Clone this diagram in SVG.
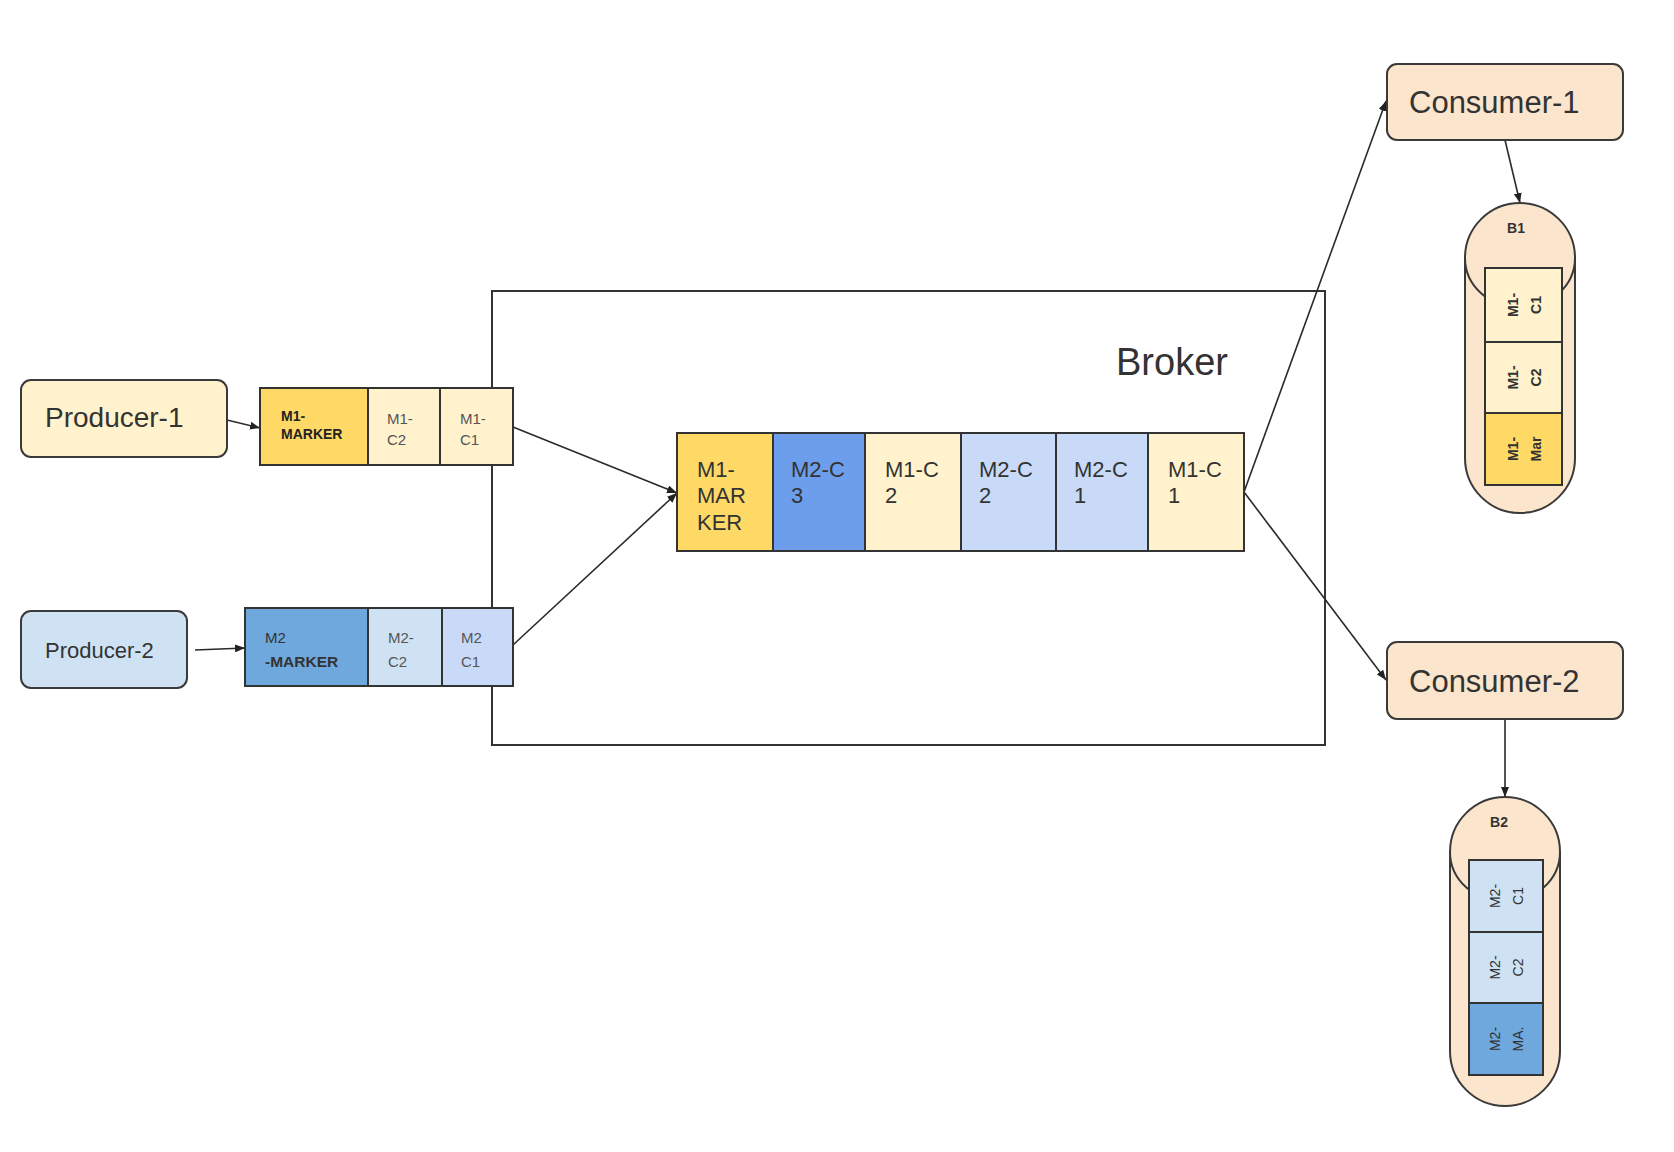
<svg xmlns="http://www.w3.org/2000/svg" width="1674" height="1152" viewBox="0 0 1674 1152">
  <defs>
    <marker id="arr" viewBox="0 0 10 8" refX="10" refY="4" markerWidth="10" markerHeight="8" markerUnits="userSpaceOnUse" orient="auto">
      <path d="M0,0 L10,4 L0,8 Z" fill="#222"/>
    </marker>
    <style>
      text { font-family: "Liberation Sans", Arial, sans-serif; fill: #333; }
      .box { stroke: #3a3a3a; stroke-width: 2; }
      .cell { stroke: #333; stroke-width: 2; }
      .yl { fill: #fff2cc; }
      .yd { fill: #ffd966; }
      .bl { fill: #cfe2f3; }
      .bc { fill: #c9daf8; }
      .bd { fill: #6fa8dc; }
      .bq { fill: #6d9eeb; }
      .or { fill: #fce5cd; }
      .conn line { stroke: #2a2a2a; stroke-width: 1.6; fill: none; marker-end: url(#arr); }
      .big { font-size: 28px; }
      .q { font-size: 22px; }
      .s { font-size: 15px; fill: #555; }
      .sb { font-size: 14px; font-weight: bold; fill: #222; }
      .r { font-size: 14px; }
    </style>
  </defs>
  <rect width="1674" height="1152" fill="#ffffff"/>

  <g id="broker">
    <rect x="492" y="291" width="833" height="454" fill="none" stroke="#333" stroke-width="2"/>
    <text x="1116" y="375" font-size="38">Broker</text>
  </g>

  <g class="conn" id="connectors">
    <line x1="227" y1="420" x2="260" y2="428"/>
    <line x1="195" y1="650" x2="245" y2="648"/>
    <line x1="513" y1="427" x2="677" y2="493"/>
    <line x1="513" y1="645" x2="677" y2="493"/>
    <line x1="1244" y1="492" x2="1386" y2="101"/>
    <line x1="1244" y1="492" x2="1386" y2="680"/>
    <line x1="1505" y1="140" x2="1520" y2="203"/>
    <line x1="1505" y1="719" x2="1505" y2="797"/>
  </g>

  <g id="producer-1">
    <rect class="box yl" x="21" y="380" width="206" height="77" rx="10"/>
    <text class="big" x="45" y="427">Producer-1</text>
  </g>

  <g id="producer-2">
    <rect class="box bl" x="21" y="611" width="166" height="77" rx="10"/>
    <text x="45" y="658" font-size="22">Producer-2</text>
  </g>

  <g id="p1-strip">
    <rect class="cell yd" x="260" y="388" width="108" height="77"/>
    <rect class="cell yl" x="368" y="388" width="72" height="77"/>
    <rect class="cell yl" x="440" y="388" width="73" height="77"/>
    <text class="sb" x="281" y="421" font-size="12">M1-</text>
    <text class="sb" x="281" y="439">MARKER</text>
    <text class="s" x="387" y="424">M1-</text>
    <text class="s" x="387" y="445">C2</text>
    <text class="s" x="460" y="424">M1-</text>
    <text class="s" x="460" y="445">C1</text>
  </g>

  <g id="p2-strip">
    <rect class="cell bd" x="245" y="608" width="123" height="78"/>
    <rect class="cell bl" x="368" y="608" width="74" height="78"/>
    <rect class="cell bc" x="442" y="608" width="71" height="78"/>
    <text x="265" y="643" font-size="15" fill="#444">M2</text>
    <text x="265" y="667" font-size="15.5" font-weight="bold" fill="#222">-MARKER</text>
    <text class="s" x="388" y="643">M2-</text>
    <text class="s" x="388" y="667">C2</text>
    <text class="s" x="461" y="643">M2</text>
    <text class="s" x="461" y="667">C1</text>
  </g>

  <g id="queue">
    <rect class="cell yd" x="677" y="433" width="96" height="118"/>
    <rect class="cell bq" x="773" y="433" width="92" height="118"/>
    <rect class="cell yl" x="865" y="433" width="96" height="118"/>
    <rect class="cell bc" x="961" y="433" width="95" height="118"/>
    <rect class="cell bc" x="1056" y="433" width="92" height="118"/>
    <rect class="cell yl" x="1148" y="433" width="96" height="118"/>
    <text class="q" x="697" y="477">M1-</text>
    <text class="q" x="697" y="503">MAR</text>
    <text class="q" x="697" y="530">KER</text>
    <text class="q" x="791" y="477">M2-C</text>
    <text class="q" x="791" y="503">3</text>
    <text class="q" x="885" y="477">M1-C</text>
    <text class="q" x="885" y="503">2</text>
    <text class="q" x="979" y="477">M2-C</text>
    <text class="q" x="979" y="503">2</text>
    <text class="q" x="1074" y="477">M2-C</text>
    <text class="q" x="1074" y="503">1</text>
    <text class="q" x="1168" y="477">M1-C</text>
    <text class="q" x="1168" y="503">1</text>
  </g>

  <g id="consumer-1">
    <rect class="box or" x="1387" y="64" width="236" height="76" rx="10"/>
    <text x="1409" y="113" font-size="31">Consumer-1</text>
  </g>

  <g id="consumer-2">
    <rect class="box or" x="1387" y="642" width="236" height="77" rx="10"/>
    <text x="1409" y="692" font-size="31">Consumer-2</text>
  </g>

  <g id="b1">
    <rect class="box or" x="1465" y="203" width="110" height="310" rx="55"/>
    <path d="M1465,258 A55,50 0 0 0 1575,258" fill="none" stroke="#3a3a3a" stroke-width="2"/>
    <text x="1516" y="233" font-size="14" font-weight="bold" text-anchor="middle" fill="#222">B1</text>
    <rect class="cell yl" x="1485" y="268" width="77" height="74"/>
    <rect class="cell yl" x="1485" y="342" width="77" height="71"/>
    <rect class="cell yd" x="1485" y="413" width="77" height="72"/>
    <g transform="translate(1524,305) rotate(-90)">
      <text class="r" y="-6" text-anchor="middle" font-weight="bold">M1-</text>
      <text class="r" y="17" text-anchor="middle" font-weight="bold">C1</text>
    </g>
    <g transform="translate(1524,377.5) rotate(-90)">
      <text class="r" y="-6" text-anchor="middle" font-weight="bold">M1-</text>
      <text class="r" y="17" text-anchor="middle" font-weight="bold">C2</text>
    </g>
    <g transform="translate(1524,449) rotate(-90)">
      <text class="r" y="-6" text-anchor="middle" font-weight="bold">M1-</text>
      <text class="r" y="17" text-anchor="middle" font-weight="bold">Mar</text>
    </g>
  </g>

  <g id="b2">
    <rect class="box or" x="1450" y="797" width="110" height="309" rx="55"/>
    <path d="M1450,852 A55,50 0 0 0 1560,852" fill="none" stroke="#3a3a3a" stroke-width="2"/>
    <text x="1499" y="827" font-size="14" font-weight="bold" text-anchor="middle" fill="#222">B2</text>
    <rect class="cell bl" x="1469" y="860" width="74" height="72"/>
    <rect class="cell bl" x="1469" y="932" width="74" height="71"/>
    <rect class="cell bd" x="1469" y="1003" width="74" height="72"/>
    <g transform="translate(1506,896) rotate(-90)">
      <text class="r" y="-6" text-anchor="middle" fill="#444">M2-</text>
      <text class="r" y="17" text-anchor="middle" fill="#444">C1</text>
    </g>
    <g transform="translate(1506,967.5) rotate(-90)">
      <text class="r" y="-6" text-anchor="middle" fill="#444">M2-</text>
      <text class="r" y="17" text-anchor="middle" fill="#444">C2</text>
    </g>
    <g transform="translate(1506,1039) rotate(-90)">
      <text class="r" y="-6" text-anchor="middle" fill="#333">M2-</text>
      <text class="r" y="17" text-anchor="middle" fill="#333">MA.</text>
    </g>
  </g>
</svg>
